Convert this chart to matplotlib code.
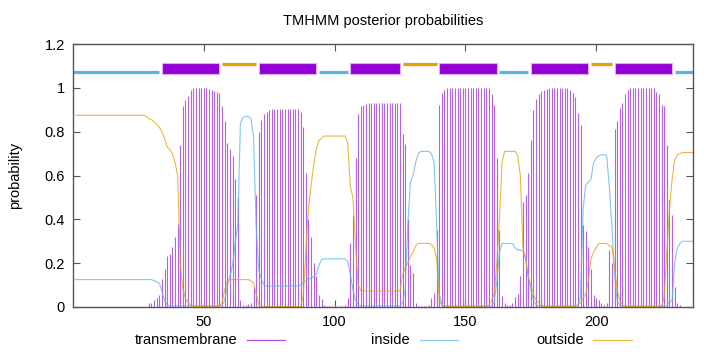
import numpy as np
import matplotlib.pyplot as plt
from matplotlib.lines import Line2D
from matplotlib.patches import Rectangle

plt.rcParams['font.family'] = ['Liberation Sans', 'DejaVu Sans']
plt.rcParams['font.size'] = 10.5

# posterior probabilities per residue (1..237)
tm = ([0.0] * 28 +
      [0.017, 0.02, 0.03, 0.04, 0.055] +
      [0.128, 0.173, 0.233, 0.242, 0.275, 0.32, 0.38, 0.74, 0.915, 0.945, 0.965, 0.99] +
      [1.0] * 6 +
      [0.995, 0.99, 0.985, 0.98, 0.975] +
      [0.915, 0.85, 0.75, 0.72, 0.69, 0.585, 0.50, 0.03, 0.01, 0.01, 0.015, 0.02] +
      [0.09, 0.51, 0.80, 0.855, 0.88, 0.89, 0.90] +
      [0.905] * 11 +
      [0.89, 0.82, 0.61, 0.40, 0.32, 0.20, 0.14, 0.055, 0.035, 0.01, 0.005, 0.005,
       0.005, 0.01, 0.005, 0.005, 0.005, 0.01, 0.04] +
      [0.29, 0.42, 0.68, 0.88, 0.915, 0.92, 0.925] +
      [0.93] * 13 +
      [0.79, 0.745, 0.40, 0.19, 0.155, 0.02, 0.005, 0.005, 0.005, 0.005, 0.01, 0.04, 0.066, 0.35] +
      [0.92, 0.975, 0.99] +
      [1.0] * 17 +
      [0.97, 0.92, 0.68, 0.35, 0.05, 0.02, 0.01, 0.01, 0.02, 0.045, 0.06, 0.14, 0.48, 0.51,
       0.61, 0.76, 0.90, 0.95, 0.97, 0.985, 0.99, 0.995] +
      [1.0] * 8 +
      [0.99, 0.975, 0.96, 0.885, 0.83, 0.375, 0.345, 0.275, 0.175, 0.055, 0.04, 0.03,
       0.02, 0.01, 0.02, 0.26, 0.20] +
      [0.81, 0.85, 0.91, 0.93, 0.97, 0.99] +
      [1.0] * 10 +
      [0.98, 0.97, 0.92, 0.915, 0.74, 0.49, 0.42, 0.09, 0.02, 0.01] +
      [0.0] * 5)

inside = ([0.125] * 30 +
          [0.12, 0.115, 0.11, 0.07, 0.03, 0.01] +
          [0.005] * 20 +
          [0.01, 0.03, 0.1, 0.14, 0.19, 0.29, 0.38, 0.84, 0.865, 0.87, 0.87, 0.86, 0.78,
           0.37, 0.17, 0.13, 0.10] +
          [0.096] * 13 +
          [0.10, 0.11, 0.12, 0.13, 0.13, 0.14, 0.15, 0.19, 0.215] +
          [0.22] * 9 +
          [0.21, 0.15, 0.08, 0.03, 0.01] +
          [0.005] * 16 +
          [0.02, 0.08, 0.38, 0.57, 0.60, 0.66, 0.70, 0.71, 0.71, 0.71, 0.71, 0.70, 0.66,
           0.38, 0.06, 0.01] +
          [0.005] * 19 +
          [0.02, 0.12, 0.25] +
          [0.29] * 5 +
          [0.27, 0.26, 0.26, 0.255, 0.22, 0.14, 0.08, 0.03, 0.01] +
          [0.005] * 16 +
          [0.05, 0.45, 0.555, 0.57, 0.58, 0.66, 0.68, 0.69, 0.695, 0.695, 0.69, 0.55, 0.37,
           0.15, 0.03, 0.01] +
          [0.005] * 18 +
          [0.02, 0.03, 0.2, 0.27, 0.29] +
          [0.30] * 5)

outside = ([0.875] * 27 +
           [0.87, 0.86, 0.855, 0.845, 0.835, 0.82, 0.80, 0.77, 0.73, 0.72, 0.70, 0.66,
            0.60, 0.20, 0.08, 0.04, 0.02, 0.01] +
           [0.003] * 11 +
           [0.02, 0.08, 0.12] +
           [0.125] * 8 +
           [0.12, 0.11, 0.06, 0.01] +
           [0.002] * 16 +
           [0.05, 0.25, 0.45, 0.55, 0.65, 0.72, 0.76, 0.77] +
           [0.78] * 9 +
           [0.75, 0.55, 0.50, 0.28, 0.10, 0.075] +
           [0.073] * 15 +
           [0.15, 0.18, 0.20, 0.23, 0.25, 0.28] +
           [0.29] * 5 +
           [0.285, 0.27, 0.22, 0.03, 0.01] +
           [0.002] * 16 +
           [0.005, 0.01, 0.03, 0.06, 0.20, 0.40, 0.66] +
           [0.71] * 5 +
           [0.69, 0.60, 0.27, 0.22, 0.14, 0.10, 0.06, 0.03, 0.02, 0.01] +
           [0.002] * 12 +
           [0.005, 0.01, 0.02, 0.04, 0.06, 0.12, 0.22, 0.25, 0.27] +
           [0.29] * 4 +
           [0.28, 0.275, 0.18, 0.08, 0.03, 0.01] +
           [0.002] * 15 +
           [0.05, 0.25, 0.45, 0.58, 0.67, 0.695, 0.70] +
           [0.705] * 5)

# predicted topology segments (start, end)
inside_segs = [(0, 33), (94, 105), (163, 174), (230, 237)]
outside_segs = [(57, 70), (126, 139), (198, 206)]
tm_segs = [(34, 56), (71, 93), (106, 125), (140, 162), (175, 197), (207, 229)]

c_tm = '#9400d3'
c_in = '#56b4e9'
c_out = '#e69f00'

fig = plt.figure(figsize=(7.2, 3.52), dpi=100)
ax = fig.add_axes([73 / 720, 1 - 307 / 352, 620 / 720, 263 / 352])

pos = np.arange(1, len(tm) + 1)
ax.vlines(pos, 0, tm, color='#b262e6', lw=0.8)
ax.plot(pos, inside, color=c_in, lw=0.8, alpha=0.75)
ax.plot(pos, outside, color=c_out, lw=0.8, alpha=0.75)

# topology bars on top
for s, e in inside_segs:
    ax.plot([s, e], [1.07, 1.07], color=c_in, lw=2.3, solid_capstyle='butt')
for s, e in outside_segs:
    ax.plot([s, e], [1.11, 1.11], color=c_out, lw=2.3, solid_capstyle='butt')
for s, e in tm_segs:
    ax.add_patch(Rectangle((s, 1.065), e - s, 0.05, facecolor=c_tm,
                           edgecolor='#dcaef2', lw=0.8))

ax.set_xlim(0, 237)
ax.set_ylim(0, 1.2)
ax.set_xticks([50, 100, 150, 200])
ax.set_yticks([0, 0.2, 0.4, 0.6, 0.8, 1.0, 1.2])
ax.set_yticklabels(['0', '0.2', '0.4', '0.6', '0.8', '1', '1.2'])
ax.tick_params(direction='in', top=True, right=True, length=5, color='#555555', pad=6)
for sp in ax.spines.values():
    sp.set_color('#555555')
    sp.set_linewidth(1.0)

ax.set_title('TMHMM posterior probabilities', fontsize=10.5, pad=14)
ax.set_ylabel('probability', labelpad=16)

# key below the plot, gnuplot style (text then sample line)
key = [('transmembrane', c_tm, 237, 247, 285),
       ('inside', c_in, 410, 420, 458),
       ('outside', c_out, 584, 593, 632)]
for label, col, tx, x0, x1 in key:
    fig.text(tx / 720, 1 - 340 / 352, label, ha='right', va='center')
    fig.add_artist(Line2D([x0 / 720, x1 / 720], [1 - 340 / 352, 1 - 340 / 352],
                          color=col, lw=0.9, alpha=0.7, transform=fig.transFigure))

fig.savefig('out.png', dpi=100)
